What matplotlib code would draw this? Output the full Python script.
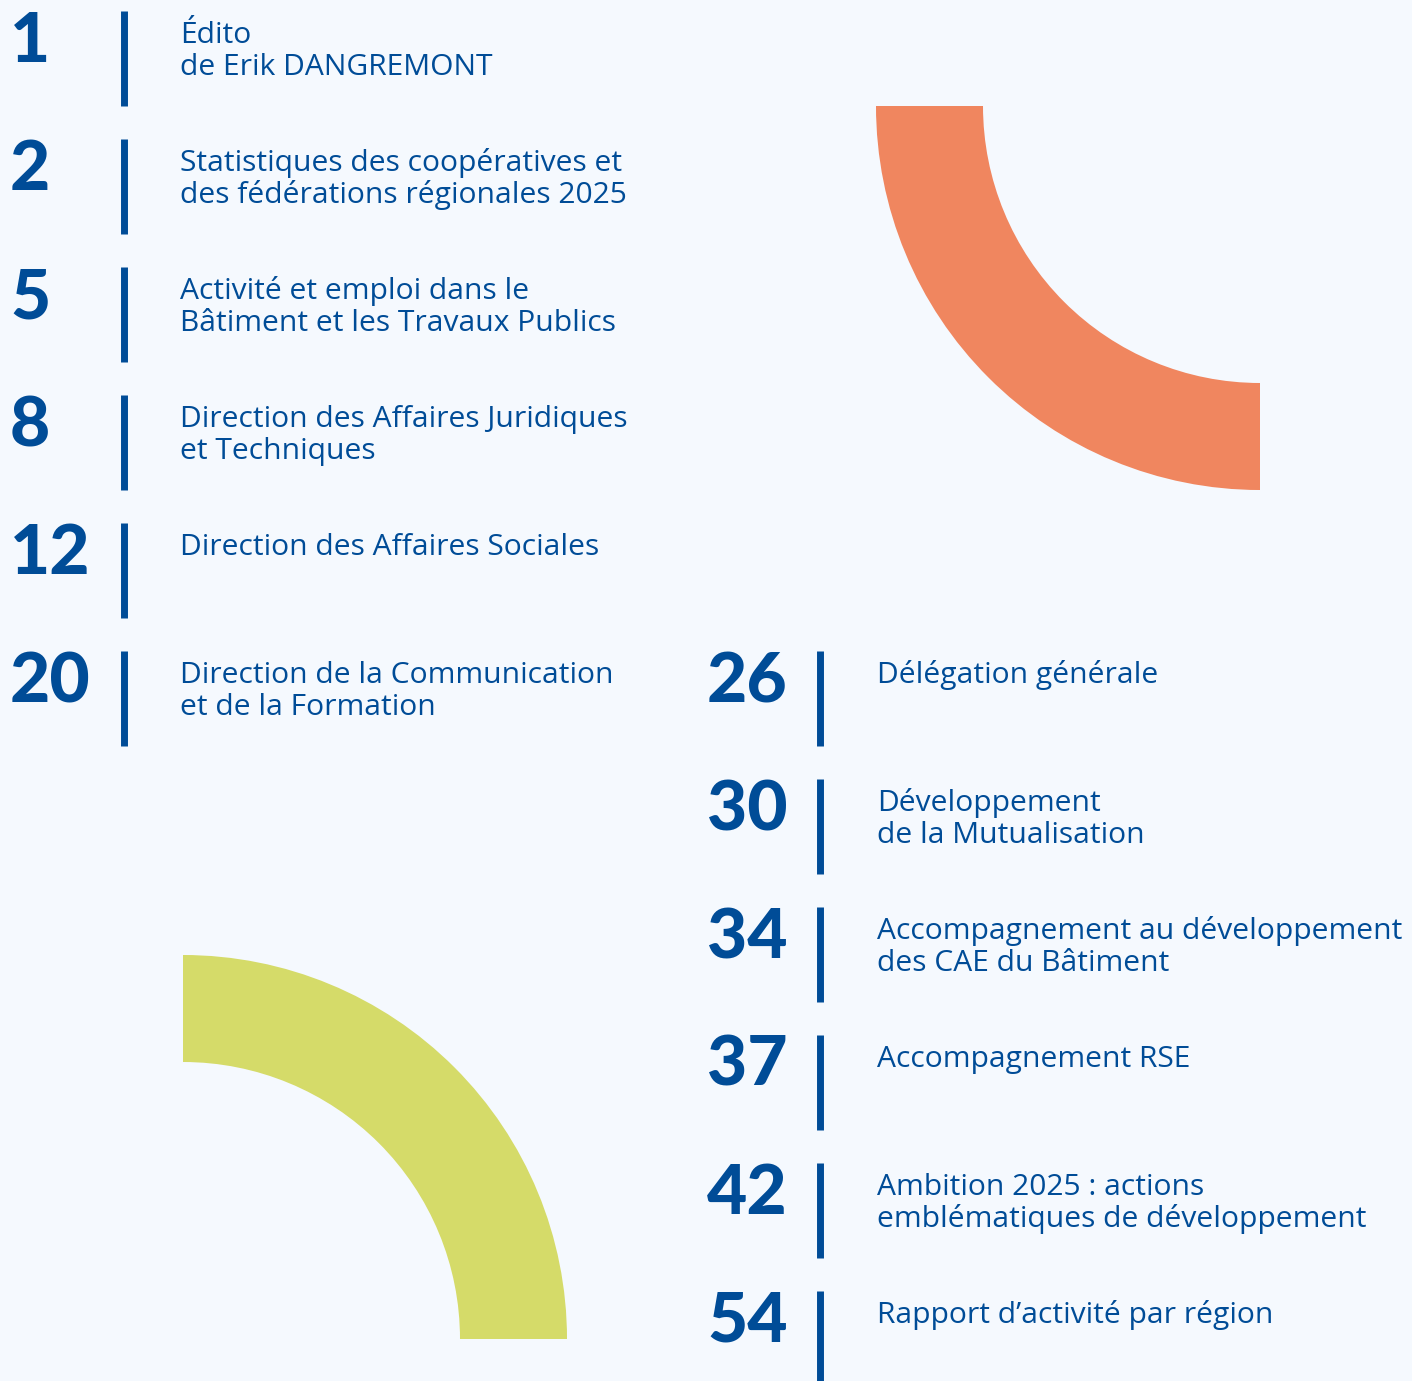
import matplotlib
matplotlib.use("Agg")
import matplotlib.pyplot as plt
from matplotlib.patches import Wedge

# ---- data ----
left_pages = ["1", "2", "5", "8", "12", "20"]
left_titles = [
    "Édito\nde Erik DANGREMONT",
    "Statistiques des coopératives et\ndes fédérations régionales 2025",
    "Activité et emploi dans le\nBâtiment et les Travaux Publics",
    "Direction des Affaires Juridiques\net Techniques",
    "Direction des Affaires Sociales",
    "Direction de la Communication\net de la Formation",
]
right_pages = ["26", "30", "34", "37", "42", "54"]
right_titles = [
    "Délégation générale",
    "Développement\nde la Mutualisation",
    "Accompagnement au développement\ndes CAE du Bâtiment",
    "Accompagnement RSE",
    "Ambition 2025 : actions\nemblématiques de développement",
    "Rapport d\u2019activité par région",
]

BG = "#F5F9FE"
BLUE = "#004C97"
ORANGE = "#F0865F"
GREEN = "#D5DB69"

W, H = 1412, 1381
fig = plt.figure(figsize=(W / 100, H / 100), dpi=100, facecolor=BG)
ax = fig.add_axes([0, 0, 1, 1])
ax.set_xlim(0, W)
ax.set_ylim(H, 0)
ax.set_facecolor(BG)
ax.axis("off")

# decorative quarter rings
ax.add_patch(Wedge((1260, 106), 384, 90, 180, width=107, facecolor=ORANGE, edgecolor="none"))
ax.add_patch(Wedge((183, 1339), 384, 270, 360, width=107, facecolor=GREEN, edgecolor="none"))

NUM_FONT = dict(family=["Lato", "DejaVu Sans"], weight="black", size=50, color=BLUE)
TXT_FONT = dict(family=["Open Sans", "DejaVu Sans"], size=21.6, color=BLUE)

STEP = 128.0


def draw_column(pages, titles, x_num, x_bar, x_txt, y0):
    for i, (p, t) in enumerate(zip(pages, titles)):
        top = y0 + i * STEP
        ax.plot([x_bar, x_bar], [top, top + 95], color=BLUE, lw=5, solid_capstyle="butt")
        ax.text(x_num, top + 51, p, ha="left", va="baseline", **NUM_FONT)
        for j, line in enumerate(t.split("\n")):
            ax.text(x_txt, top + 32 + 32 * j, line, ha="left", va="baseline", **TXT_FONT)


draw_column(left_pages, left_titles, 10, 124, 180, 11)
draw_column(right_pages, right_titles, 707, 820, 877, 651)

fig.savefig("out.png", dpi=100, facecolor=BG)
